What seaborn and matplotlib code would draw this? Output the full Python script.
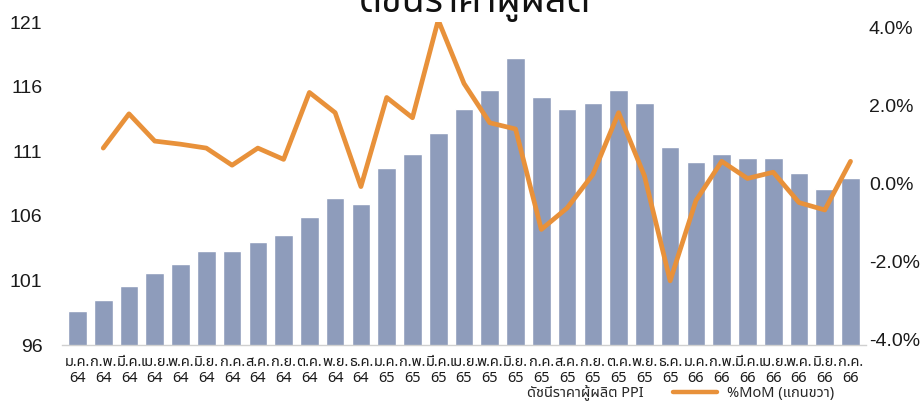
import numpy as np
import pandas as pd
import matplotlib
matplotlib.use("Agg")
import matplotlib.pyplot as plt
import seaborn as sns
from matplotlib import font_manager as fm
from matplotlib.ft2font import FT2Font
from matplotlib.patches import Patch
from matplotlib.lines import Line2D

# ---------------- data ----------------
month_names = ["ม.ค.", "ก.พ.", "มี.ค.", "เม.ย.", "พ.ค.", "มิ.ย.",
               "ก.ค.", "ส.ค.", "ก.ย.", "ต.ค.", "พ.ย.", "ธ.ค."]
years = ["64"] * 12 + ["65"] * 12 + ["66"] * 7
months = [month_names[i % 12] for i in range(31)]
tick_labels = [f"{m}\n{y}" for m, y in zip(months, years)]

ppi = [98.6, 99.5, 100.6, 101.6, 102.25, 103.3, 103.3, 104.0, 104.5, 105.9,
       107.4, 106.9, 109.7, 110.8, 112.4, 114.3, 115.75, 118.2, 115.2, 114.3,
       114.75, 115.75, 114.75, 111.3, 110.2, 110.8, 110.5, 110.5, 109.3, 108.1,
       108.9]
mom = [np.nan, 0.91, 1.79, 1.09, 1.01, 0.91, 0.47, 0.91, 0.62, 2.34,
       1.82, -0.08, 2.21, 1.69, 4.2, 2.57, 1.56, 1.40, -1.18, -0.63,
       0.23, 1.82, 0.2, -2.5, -0.44, 0.57, 0.13, 0.29, -0.49, -0.68,
       0.57]

left_ticks = [96, 101, 106, 111, 116, 121]
right_ticks = [-4, -2, 0, 2, 4]

title = "ดัชนีราคาผู้ผลิต"
legend_labels = ["ดัชนีราคาผู้ผลิต PPI", "%MoM (แกนขวา)"]

# ---------------- fonts ----------------
sns.set_style("white")


def find_thai_font():
    preferred = ["Noto Sans Thai", "Noto Sans Thai UI", "Loma", "Garuda",
                 "Umpush", "Kinnari", "Norasi", "Tlwg Typo", "Sarabun"]
    found = {}
    for f in fm.fontManager.ttflist:
        if f.name in found:
            continue
        try:
            cm = FT2Font(f.fname).get_charmap()
            if 0x0E01 in cm and 0x0E14 in cm:
                found[f.name] = f
        except Exception:
            pass
    for p in preferred:
        if p in found:
            return p
    return next(iter(found), None)


thai = find_thai_font()
fam = ([thai] if thai else []) + ["DejaVu Sans"]
plt.rcParams["font.family"] = fam
num_fam = ["Liberation Sans", "DejaVu Sans"]

bar_color = "#8E9CBB"
line_color = "#E8913A"

df = pd.DataFrame({"label": tick_labels, "ppi": ppi, "mom": mom,
                   "pos": np.arange(len(ppi))})

fig = plt.figure(figsize=(9.23, 4.11), dpi=100)
ax = fig.add_axes([62 / 923, 1 - 345 / 411, 804 / 923, 323 / 411])

sns.barplot(data=df, x="label", y="ppi", color=bar_color, width=0.72,
            saturation=1, ax=ax, zorder=2)
ax.set_xlim(-0.6, 30.6)
ax.set_ylim(96, 121)
ax.set_yticks(left_ticks)
ax.set_yticklabels([str(t) for t in left_ticks], family=num_fam, fontsize=14,
                   color="#1a1a1a")
ax.set_xticks(np.arange(len(tick_labels)))
ax.set_xticklabels(tick_labels, fontsize=10.5, color="#1a1a1a", linespacing=1.15)
ax.tick_params(axis="y", length=0, pad=14)
ax.tick_params(axis="x", length=0, pad=7)
ax.set_xlabel("")
ax.set_ylabel("")
for s in ["left", "right", "top"]:
    ax.spines[s].set_visible(False)
ax.spines["bottom"].set_color("#D0D0D0")
ax.spines["bottom"].set_linewidth(1.0)

ax2 = ax.twinx()
sns.lineplot(data=df, x="pos", y="mom", color=line_color, linewidth=3.4,
             ax=ax2, legend=False)
ax2.set_xlim(-0.6, 30.6)
ax2.set_ylim(-4.15, 4.15)
ax2.set_yticks(right_ticks)
ax2.set_yticklabels([f"{t:.1f}%" for t in right_ticks], family=num_fam,
                    fontsize=14, color="#1a1a1a")
ax2.tick_params(axis="y", length=0, pad=2)
ax2.set_ylabel("")
ax2.set_xlabel("")
for s in ["left", "right", "top", "bottom"]:
    ax2.spines[s].set_visible(False)

fig.text(0.515, 1 - 12 / 411, title, ha="center", va="baseline",
         fontsize=27, fontweight="bold", color="#111111")

handles = [Patch(facecolor="none", edgecolor="none"),
           Line2D([], [], color=line_color, linewidth=3.2)]
fig.legend(handles=handles, labels=legend_labels, loc="center",
           bbox_to_anchor=(0.708, 1 - 393 / 411), ncol=2, frameon=False,
           fontsize=10.5, handlelength=3.0, columnspacing=2.0,
           handletextpad=0.7)

fig.savefig("out.png", dpi=100, facecolor="white")
